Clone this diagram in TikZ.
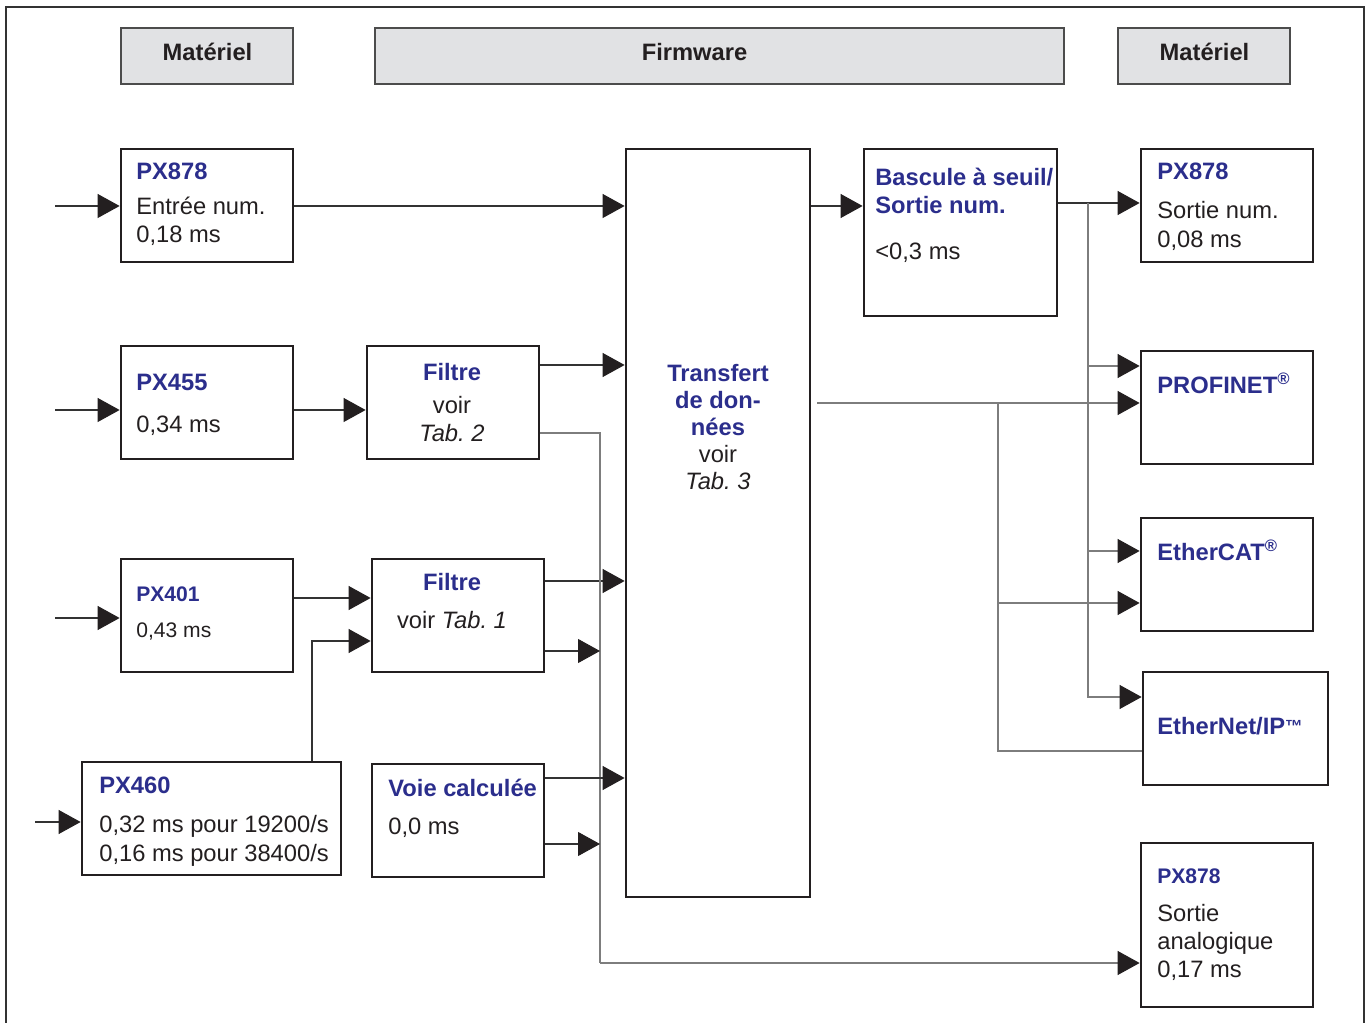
\documentclass[tikz,border=0pt]{standalone}
\usepackage{fontspec}
\setmainfont{Liberation Sans}
\usetikzlibrary{arrows.meta}
\frenchspacing
\definecolor{hbmblue}{RGB}{43,46,140}
\definecolor{ink}{RGB}{35,31,32}
\definecolor{hdrgray}{RGB}{225,226,228}
\definecolor{busgray}{RGB}{125,125,125}
\newcommand{\bodyfont}{\fontsize{13.5}{16}\selectfont}
\newcommand{\smallbody}{\fontsize{12}{14.4}\selectfont}
\newcommand{\ttl}[1]{\textbf{\textcolor{hbmblue}{#1}}}
\newcommand{\tmark}{{\fontsize{10}{10}\selectfont\raisebox{0.25ex}{™}}}
\tikzset{
	blk/.style={rectangle, draw=ink, line width=1.6pt, inner sep=0pt},
	hdr/.style={rectangle, draw=black!70, fill=hdrgray, line width=0.8pt, inner sep=0pt, minimum height=1.12cm},
	hdrtxt/.style={anchor=base, inner sep=0pt, font=\bodyfont\bfseries, text=ink},
	txt/.style={anchor=north west, inner sep=0pt, align=left, font=\bodyfont, text=ink},
	ctxt/.style={anchor=north, inner sep=0pt, align=center, font=\bodyfont, text=ink},
	lbl/.style={anchor=base west, inner sep=0pt, font=\bodyfont\bfseries, text=hbmblue},
	arr/.style={draw=black!80, line width=0.6pt, -{Triangle[length=0.44cm, width=0.48cm, color=ink]}},
	bus/.style={draw=busgray, line width=0.6pt},
	frm/.style={draw=black!80, line width=0.8pt}
}
\begin{document}
\begin{tikzpicture}[x=0.02cm, y=-0.02cm]
	\useasboundingbox (0,0) rectangle (1370,1023);
	\draw[frm] (6,1023) -- (6,7) -- (1364,7) -- (1364,1023);
	\node[hdr, minimum width=3.44cm] (matA) at (207,56) {};
	\node[hdr, minimum width=13.78cm] (firm) at (719.5,56) {};
	\node[hdr, minimum width=3.44cm] (matB) at (1204,56) {};
	\node[hdrtxt] (matAt) at (207.5,61) {Matériel};
	\node[hdrtxt] (firmt) at (694.5,61) {Firmware};
	\node[hdrtxt] (matBt) at (1204.5,61) {Matériel};
	\node[blk, minimum width=3.44cm, minimum height=2.26cm] (in878) at (207,205.5) {};
	\node[blk, minimum width=3.44cm, minimum height=2.26cm] (px455) at (207,402.5) {};
	\node[blk, minimum width=3.44cm, minimum height=2.26cm] (filt2) at (453,402.5) {};
	\node[blk, minimum width=3.44cm, minimum height=2.26cm] (px401) at (207,615.5) {};
	\node[blk, minimum width=3.44cm, minimum height=2.26cm] (filt1) at (458,615.5) {};
	\node[blk, minimum width=5.18cm, minimum height=2.26cm] (px460) at (211.5,818.5) {};
	\node[blk, minimum width=3.44cm, minimum height=2.26cm] (voie) at (458,820.5) {};
	\node[blk, minimum width=3.68cm, minimum height=14.96cm] (transf) at (718,523) {};
	\node[blk, minimum width=3.86cm, minimum height=3.34cm] (bascule) at (960.5,232.5) {};
	\node[blk, minimum width=3.44cm, minimum height=2.26cm] (out878) at (1227,205.5) {};
	\node[blk, minimum width=3.44cm, minimum height=2.26cm] (profinet) at (1227,407.5) {};
	\node[blk, minimum width=3.44cm, minimum height=2.26cm] (ethercat) at (1227,574.5) {};
	\node[blk, minimum width=3.70cm, minimum height=2.26cm] (ethip) at (1235.5,728.5) {};
	\node[blk, minimum width=3.44cm, minimum height=3.28cm] (ana878) at (1227,925) {};
	\node[txt] (in878t) at (136,162.5) {\ttl{PX878}\\[4pt]Entrée num.\\0,18 ms};
	\node[txt] (px455t) at (136,373.5) {\ttl{PX455}\\[8pt]0,34 ms};
	\node[ctxt] (filt2t) at (452,362.5) {\ttl{Filtre}\\[3pt]voir\\\textit{Tab. 2}};
	\node[txt, font=\smallbody] (px401t) at (136,586.5) {\ttl{PX401}\\[6pt]0,43 ms};
	\node[ctxt] (filt1t) at (452,572.5) {\ttl{Filtre}\\[6pt]voir \textit{Tab. 1}};
	\node[txt] (px460t) at (99,776.5) {\ttl{PX460}\\[6.5pt]0,32 ms pour 19200/s\\0,16 ms pour 38400/s};
	\node[txt] (voiet) at (388,778.5) {\ttl{Voie calculée}\\[6pt]0,0 ms};
	\node[ctxt, font=\fontsize{13.5}{15.5}\selectfont] (transft) at (718,363.5) {\ttl{Transfert}\\\ttl{de don-}\\\ttl{nées}\\voir\\\textit{Tab. 3}};
	\node[txt] (basct) at (875,167.5) {\ttl{Bascule à seuil/}\\\ttl{Sortie num.}\\[10pt]<0,3 ms};
	\node[txt] (out878t) at (1157,162.5) {\ttl{PX878}\\[6.5pt]Sortie num.\\0,08 ms};
	\node[lbl] (profit) at (1157,393.5) {PROFINET\textsuperscript{®}};
	\node[lbl] (ecatt) at (1157,560.5) {EtherCAT\textsuperscript{®}};
	\node[lbl] (eipt) at (1157,734.5) {EtherNet/IP\tmark};
	\node[txt] (ana878t) at (1157,868.5) {{\smallbody\ttl{PX878}}\\[5.5pt]Sortie\\analogique\\0,17 ms};
	\coordinate (srcA) at (55,206);
	\coordinate (srcB) at (55,410);
	\coordinate (srcC) at (55,618);
	\coordinate (srcD) at (35,822);
	\coordinate (kink) at (312,641);
	\coordinate (busT) at (600,433);
	\coordinate (busB) at (600,963);
	\coordinate (jA) at (1088,203);
	\coordinate (tOut) at (817,403);
	\coordinate (jB) at (998,403);
	\draw[arr] (srcA) -- (in878.west |- srcA);
	\draw[arr] (srcB) -- (px455.west |- srcB);
	\draw[arr] (srcC) -- (px401.west |- srcC);
	\draw[arr] (srcD) -- (px460.west |- srcD);
	\draw[arr] (in878.east |- srcA) -- (transf.west |- srcA);
	\draw[arr] (px455.east |- srcB) -- (filt2.west |- srcB);
	\draw[arr] (filt2.east |- 0,365) -- (transf.west |- 0,365);
	\draw[arr] (px401.east |- 0,598) -- (filt1.west |- 0,598);
	\draw[arr] (px460.north -| kink) |- (filt1.west |- kink);
	\draw[arr] (filt1.east |- 0,581) -- (transf.west |- 0,581);
	\draw[bus] (filt2.east |- busT) -- (busT) -- (busB);
	\draw[arr, draw=busgray] (busB) -- (ana878.west |- busB);
	\draw[arr] (filt1.east |- 0,651) -- (busT |- 0,651);
	\draw[arr] (voie.east |- 0,778) -- (transf.west |- 0,778);
	\draw[arr] (voie.east |- 0,844) -- (busT |- 0,844);
	\draw[arr] (transf.east |- 0,206) -- (bascule.west |- 0,206);
	\draw[arr] (bascule.east |- jA) -- (out878.west |- jA);
	\draw[arr, draw=busgray] (jA) |- (profinet.west |- 0,366);
	\draw[arr, draw=busgray] (jA) |- (ethercat.west |- 0,551);
	\draw[arr, draw=busgray] (jA) |- (ethip.west |- 0,697);
	\draw[arr, draw=busgray] (tOut) -- (profinet.west |- tOut);
	\draw[arr, draw=busgray] (jB) |- (ethercat.west |- 0,603);
	\draw[bus] (jB) |- (ethip.west |- 0,751);
\end{tikzpicture}
\end{document}
